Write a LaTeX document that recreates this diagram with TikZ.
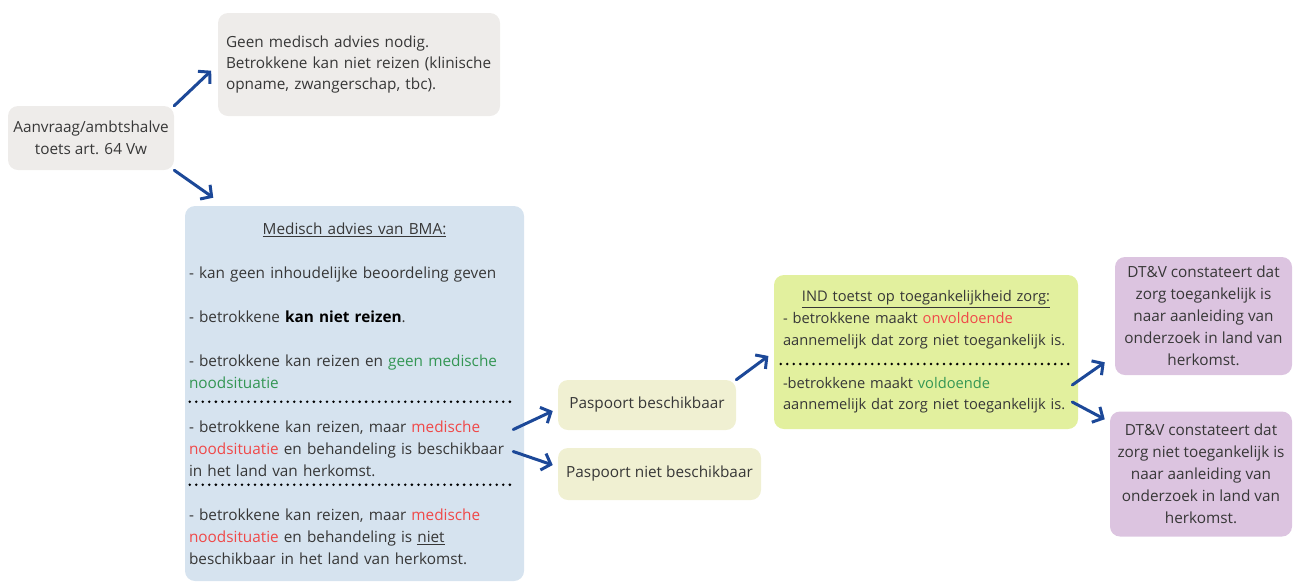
\documentclass[tikz,border=0pt]{standalone}
\usepackage{fontspec}
\setmainfont{Open Sans}
\usetikzlibrary{arrows.meta,calc}
\definecolor{boxgray}{RGB}{238,236,234}
\definecolor{boxblue}{RGB}{214,227,239}
\definecolor{boxcream}{RGB}{240,240,210}
\definecolor{boxlime}{RGB}{226,240,158}
\definecolor{boxlilac}{RGB}{220,196,224}
\definecolor{txtgray}{RGB}{55,55,55}
\definecolor{txtred}{RGB}{240,72,72}
\definecolor{txtgreen}{RGB}{52,150,84}
\definecolor{arrblue}{RGB}{28,72,152}
\hyphenpenalty=10000
\exhyphenpenalty=10000

\begin{document}
\begin{tikzpicture}[x=0.75pt, y=-0.75pt,
  box/.style = {rounded corners=7.5pt, inner sep=0pt, text=txtgray, font=\fontsize{11.5}{16.5}\selectfont},
  gray/.style = {box, fill=boxgray},
  arr/.style = {draw=arrblue, line width=2.25pt, line cap=round, -{Straight Barb[length=6pt, width=13pt, line width=2.25pt]}},
  dots/.style = {line width=2.1pt, line cap=round, dash pattern=on 0pt off 4.9pt}]
\useasboundingbox (0,0) rectangle (1294,583);
\node[gray, minimum width=124.5pt, minimum height=48pt, align=center] (aanvraag) at (91,138) {Aanvraag/ambtshalve\\toets art. 64 Vw};
\node[gray, minimum width=211.5pt, minimum height=77.25pt, text width=199.5pt, align=left, font=\fontsize{11.5}{16.1}\selectfont] (geen) at (359,64.5) {Geen medisch advies nodig.\\Betrokkene kan niet reizen (klinische\\opname, zwangerschap, tbc).};
\node[box, fill=boxblue, minimum width=254.25pt, minimum height=281.25pt, text width=248.25pt, align=left] (bma) at (354.5,393.5) {\makebox[\linewidth]{\underline{Medisch advies van BMA:}}\\[16.5pt]
- kan geen inhoudelijke beoordeling geven\\[16.5pt]
- betrokkene \textbf{\color{black}kan niet reizen}.\\[16.5pt]
- betrokkene kan reizen en \textcolor{txtgreen}{geen medische}\\
\textcolor{txtgreen}{noodsituatie}\\[16.5pt]
- betrokkene kan reizen, maar \textcolor{txtred}{medische}\\
\textcolor{txtred}{noodsituatie} en behandeling is beschikbaar\\
in het land van herkomst.\\[16.5pt]
- betrokkene kan reizen, maar \textcolor{txtred}{medische}\\
\textcolor{txtred}{noodsituatie} en behandeling is \underline{niet}\\
beschikbaar in het land van herkomst.};
\node[box, fill=boxcream, minimum width=133.5pt, minimum height=37.5pt] (pas1) at (647,405) {Paspoort beschikbaar};
\node[box, fill=boxcream, minimum width=152.25pt, minimum height=39pt] (pas2) at (659.5,474) {Paspoort niet beschikbaar};
\node[box, fill=boxlime, minimum width=228pt, minimum height=115.5pt, text width=214.5pt, align=left, font=\fontsize{11}{16.2}\selectfont] (ind) at (926,352) {\makebox[\linewidth]{\underline{IND toetst op toegankelijkheid zorg:}}\\
- betrokkene maakt \textcolor{txtred}{onvoldoende}\\
\mbox{aannemelijk dat zorg niet toegankelijk is.}\\[16.2pt]
-betrokkene maakt \textcolor{txtgreen}{voldoende}\\
\mbox{aannemelijk dat zorg niet toegankelijk is.}};
\node[box, fill=boxlilac, minimum width=132.75pt, minimum height=88.5pt, align=center] (dtv1) at (1203.5,316) {DT\&V constateert dat\\zorg toegankelijk is\\naar aanleiding van\\onderzoek in land van\\herkomst.};
\node[box, fill=boxlilac, minimum width=136.5pt, minimum height=93.75pt, align=center] (dtv2) at (1201,474) {DT\&V constateert dat\\zorg niet toegankelijk is\\naar aanleiding van\\onderzoek in land van\\herkomst.};
\draw[dots] ($(bma.north west)+(5,196)$) -- ($(bma.north east)+(-9,196)$);
\draw[dots] ($(bma.north west)+(5,279)$) -- ($(bma.north east)+(-9,279)$);
\draw[dots] ($(ind.west)+(7,12)$) -- ($(ind.east)+(-6,12)$);
\draw[arr, shorten >=6.75pt] (aanvraag.north east) -- (geen.west);
\draw[arr, shorten >=10.5pt] (aanvraag.south east) -- ($(bma.north west)+(40,0)$);
\draw[arr] ($(bma.east)+(-11,36)$) -- ($(pas1.west)+(-5,6)$);
\draw[arr] ($(bma.east)+(-11,58)$) -- ($(pas2.west)+(-5,-9)$);
\draw[arr, shorten >=5pt] (pas1.north east) -- (ind.west);
\draw[arr] ($(ind.east)+(-6,33)$) -- ($(dtv1.south west)+(-10,-13)$);
\draw[arr] ($(ind.east)+(-6,50)$) -- ($(dtv2.north west)+(-5,8)$);
\end{tikzpicture}
\end{document}
